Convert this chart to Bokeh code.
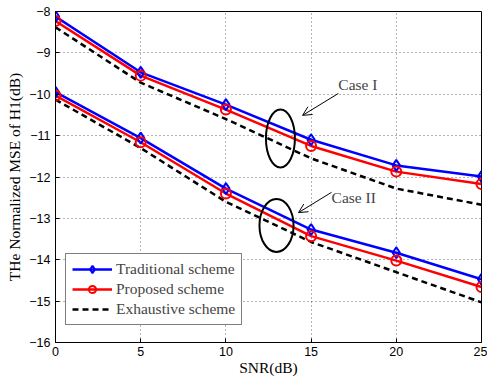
from bokeh.plotting import figure
from bokeh.models import Range1d, Legend, LegendItem, Arrow, OpenHead, FixedTicker, Label
from bokeh.embed import file_html
from bokeh.resources import INLINE

snr = [0, 5, 10, 15, 20, 25]
trad_1 = [-8.12, -9.47, -10.25, -11.10, -11.72, -11.99]
prop_1 = [-8.23, -9.55, -10.37, -11.25, -11.87, -12.17]
exh_1 = [-8.38, -9.72, -10.60, -11.55, -12.28, -12.67]
trad_2 = [-9.95, -11.06, -12.28, -13.27, -13.83, -14.47]
prop_2 = [-10.03, -11.16, -12.40, -13.43, -14.02, -14.66]
exh_2 = [-10.13, -11.30, -12.60, -13.57, -14.30, -15.03]
x_ticks = [0, 5, 10, 15, 20, 25]
y_ticks = [-16, -15, -14, -13, -12, -11, -10, -9, -8]
labels = ["Traditional scheme", "Proposed scheme", "Exhaustive scheme"]

SERIF = "Liberation Serif"
SANS = "Liberation Sans"

p = figure(width=487, height=379, output_backend="svg", toolbar_location=None,
           x_range=Range1d(0, 25), y_range=Range1d(-16, -8),
           min_border_left=55, min_border_right=6, min_border_top=11, min_border_bottom=37)
p.background_fill_color = "white"
p.border_fill_color = "white"
p.outline_line_color = "black"
p.outline_line_width = 1

for ax in (p.xaxis[0], p.yaxis[0]):
    ax.major_tick_in = 4
    ax.major_tick_out = 0
    ax.minor_tick_line_color = None
    ax.axis_line_color = "black"
    ax.major_tick_line_color = "black"
    ax.major_label_text_font = SANS
    ax.major_label_text_font_size = "12.5px"
    ax.major_label_text_color = "black"
    ax.axis_label_text_font = SERIF
    ax.axis_label_text_font_size = "15.5px"
    ax.axis_label_text_font_style = "normal"
    ax.axis_label_text_color = "black"
p.xaxis.ticker = FixedTicker(ticks=x_ticks)
p.yaxis.ticker = FixedTicker(ticks=y_ticks)
p.xaxis.axis_label = "SNR(dB)"
p.yaxis.axis_label = "THe Normalized MSE of H1(dB)"
p.xaxis.major_label_standoff = 4
p.xaxis.axis_label_standoff = 0
p.yaxis.major_label_standoff = 5
p.yaxis.axis_label_standoff = 3

for g in (p.xgrid[0], p.ygrid[0]):
    g.grid_line_color = "black"
    g.grid_line_alpha = 0.6
    g.grid_line_dash = "1 3"
    g.grid_line_width = 1

LW = 2.5
t1 = p.line(snr, trad_1, line_color="blue", line_width=LW)
p.line(snr, trad_2, line_color="blue", line_width=LW)
pr1 = p.line(snr, prop_1, line_color="red", line_width=LW)
p.line(snr, prop_2, line_color="red", line_width=LW)
e1 = p.line(snr, exh_1, line_color="black", line_width=LW, line_dash="6 4")
p.line(snr, exh_2, line_color="black", line_width=LW, line_dash="6 4")

td1 = p.scatter(snr, trad_1, marker="diamond", size=11, fill_color=None, line_color="blue", line_width=2)
p.scatter(snr, trad_2, marker="diamond", size=11, fill_color=None, line_color="blue", line_width=2)
pc1 = p.scatter(snr, prop_1, marker="circle", size=10, fill_color=None, line_color="red", line_width=2)
p.scatter(snr, prop_2, marker="circle", size=10, fill_color=None, line_color="red", line_width=2)

# annotation ellipses
p.ellipse(x=[13.2, 12.97], y=[-11.07, -13.17], width=[1.7, 2.0], height=[1.4, 1.28],
          fill_color=None, line_color="black", line_width=2)

p.add_layout(Arrow(end=OpenHead(size=9, line_width=1), x_start=16.6, y_start=-9.98,
                   x_end=14.5, y_end=-10.51, line_width=1))
p.add_layout(Arrow(end=OpenHead(size=9, line_width=1), x_start=16.2, y_start=-12.37,
                   x_end=14.26, y_end=-12.86, line_width=1))
p.add_layout(Label(x=16.6, y=-9.76, text="Case I", text_font=SERIF, text_font_size="15.5px",
                   text_baseline="middle", text_align="left"))
p.add_layout(Label(x=16.2, y=-12.49, text="Case II", text_font=SERIF, text_font_size="15.5px",
                   text_baseline="middle", text_align="left"))

legend = Legend(items=[LegendItem(label=labels[0], renderers=[t1, td1]),
                       LegendItem(label=labels[1], renderers=[pr1, pc1]),
                       LegendItem(label=labels[2], renderers=[e1])],
                location=(10, 17))
legend.border_line_color = "black"
legend.border_line_width = 1
legend.background_fill_alpha = 1
legend.label_text_font = SERIF
legend.label_text_font_size = "15.5px"
legend.glyph_width = 40
legend.glyph_height = 18
legend.label_height = 18
legend.spacing = 2
legend.padding = 6
legend.margin = 0
legend.label_standoff = 4
p.add_layout(legend)

open("out.html", "w").write(file_html(p, INLINE))
